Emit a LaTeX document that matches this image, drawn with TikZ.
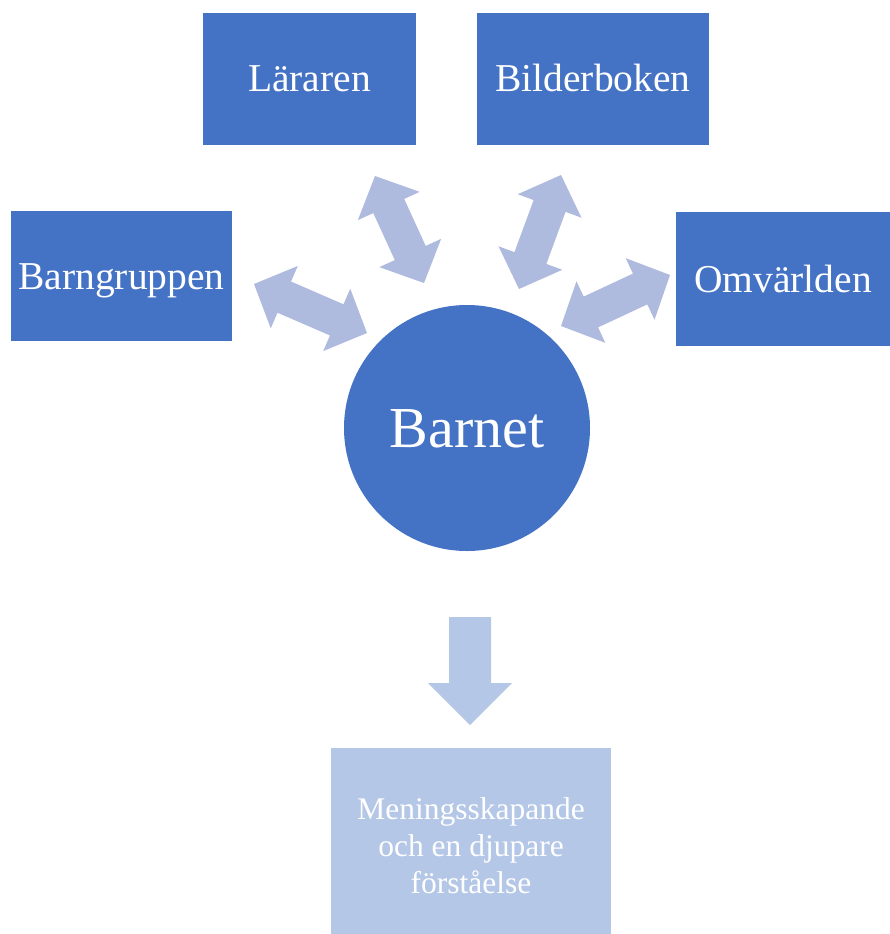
\documentclass[tikz,border=0pt]{standalone}
\usepackage{fontspec}
\setmainfont{Liberation Serif}
\usetikzlibrary{calc}
\definecolor{boxblue}{RGB}{68,114,196}
\definecolor{arrowblue}{RGB}{175,187,222}
\definecolor{paleblue}{RGB}{180,199,231}
\def\arrHW{34pt}
\def\arrSW{17pt}
\def\arrHL{33pt}
\newcommand{\dblarrow}[2]{%
  \coordinate (h1) at ($(#1)!\arrHL!(#2)$);
  \coordinate (h2) at ($(#2)!\arrHL!(#1)$);
  \fill[arrowblue] (#1) -- ($(h1)!\arrHW!90:(#2)$) -- ($(h1)!\arrSW!90:(#2)$)
    -- ($(h2)!\arrSW!-90:(#1)$) -- ($(h2)!\arrHW!-90:(#1)$) -- (#2)
    -- ($(h2)!\arrHW!90:(#1)$) -- ($(h2)!\arrSW!90:(#1)$)
    -- ($(h1)!\arrSW!-90:(#2)$) -- ($(h1)!\arrHW!-90:(#2)$) -- cycle;
}
\tikzset{
  box/.style={rectangle, fill=boxblue, text=white, inner sep=0pt, outer sep=0pt,
    font=\fontsize{39.5}{46}\selectfont, text height=26pt, text depth=0pt},
}
\begin{document}
\begin{tikzpicture}[x=1pt,y=-1pt]
\useasboundingbox (0,0) rectangle (890,934);
\node[box, minimum width=213pt, minimum height=132pt] (lar) at (309.5,79) {Läraren};
\node[box, minimum width=232pt, minimum height=132pt] (bild) at (593,79) {Bilderboken};
\node[box, minimum width=221pt, minimum height=130pt] (barng) at (121.5,276) {Barngruppen};
\node[box, minimum width=214pt, minimum height=134pt] (omv) at (783,279) {Omvärlden};
\node[circle, fill=boxblue, text=white, inner sep=0pt, minimum size=246pt,
  font=\fontsize{58}{66}\selectfont, text height=38pt, text depth=0pt] (barnet) at (467,428) {Barnet};
\node[rectangle, fill=paleblue, inner sep=0pt, minimum width=280pt, minimum height=186pt,
  label={[align=center, text=white, inner sep=0pt, yshift=-5pt, font=\fontsize{31.5}{37}\selectfont]center:{Meningsskapande\\och en djupare\\förståelse}}]
  (resultat) at (471,841) {};
% double arrows
\coordinate (a1) at (254,284); \coordinate (b1) at (367,333);
\coordinate (a2) at (375,176); \coordinate (b2) at (424,283);
\coordinate (a3) at (561,175); \coordinate (b3) at (519,289);
\coordinate (a4) at (670,275); \coordinate (b4) at (561,326);
\dblarrow{a1}{b1}
\dblarrow{a2}{b2}
\dblarrow{a3}{b3}
\dblarrow{a4}{b4}
% down arrow
\coordinate (dtop) at (470,617);
\coordinate (dtip) at (470,725);
\fill[paleblue] ($(dtop)+(-21,0)$) -- ($(dtop)+(21,0)$) -- ($(dtop)+(21,66)$) -- ($(dtop)+(42,66)$)
  -- (dtip) -- ($(dtop)+(-42,66)$) -- ($(dtop)+(-21,66)$) -- cycle;
\end{tikzpicture}
\end{document}
